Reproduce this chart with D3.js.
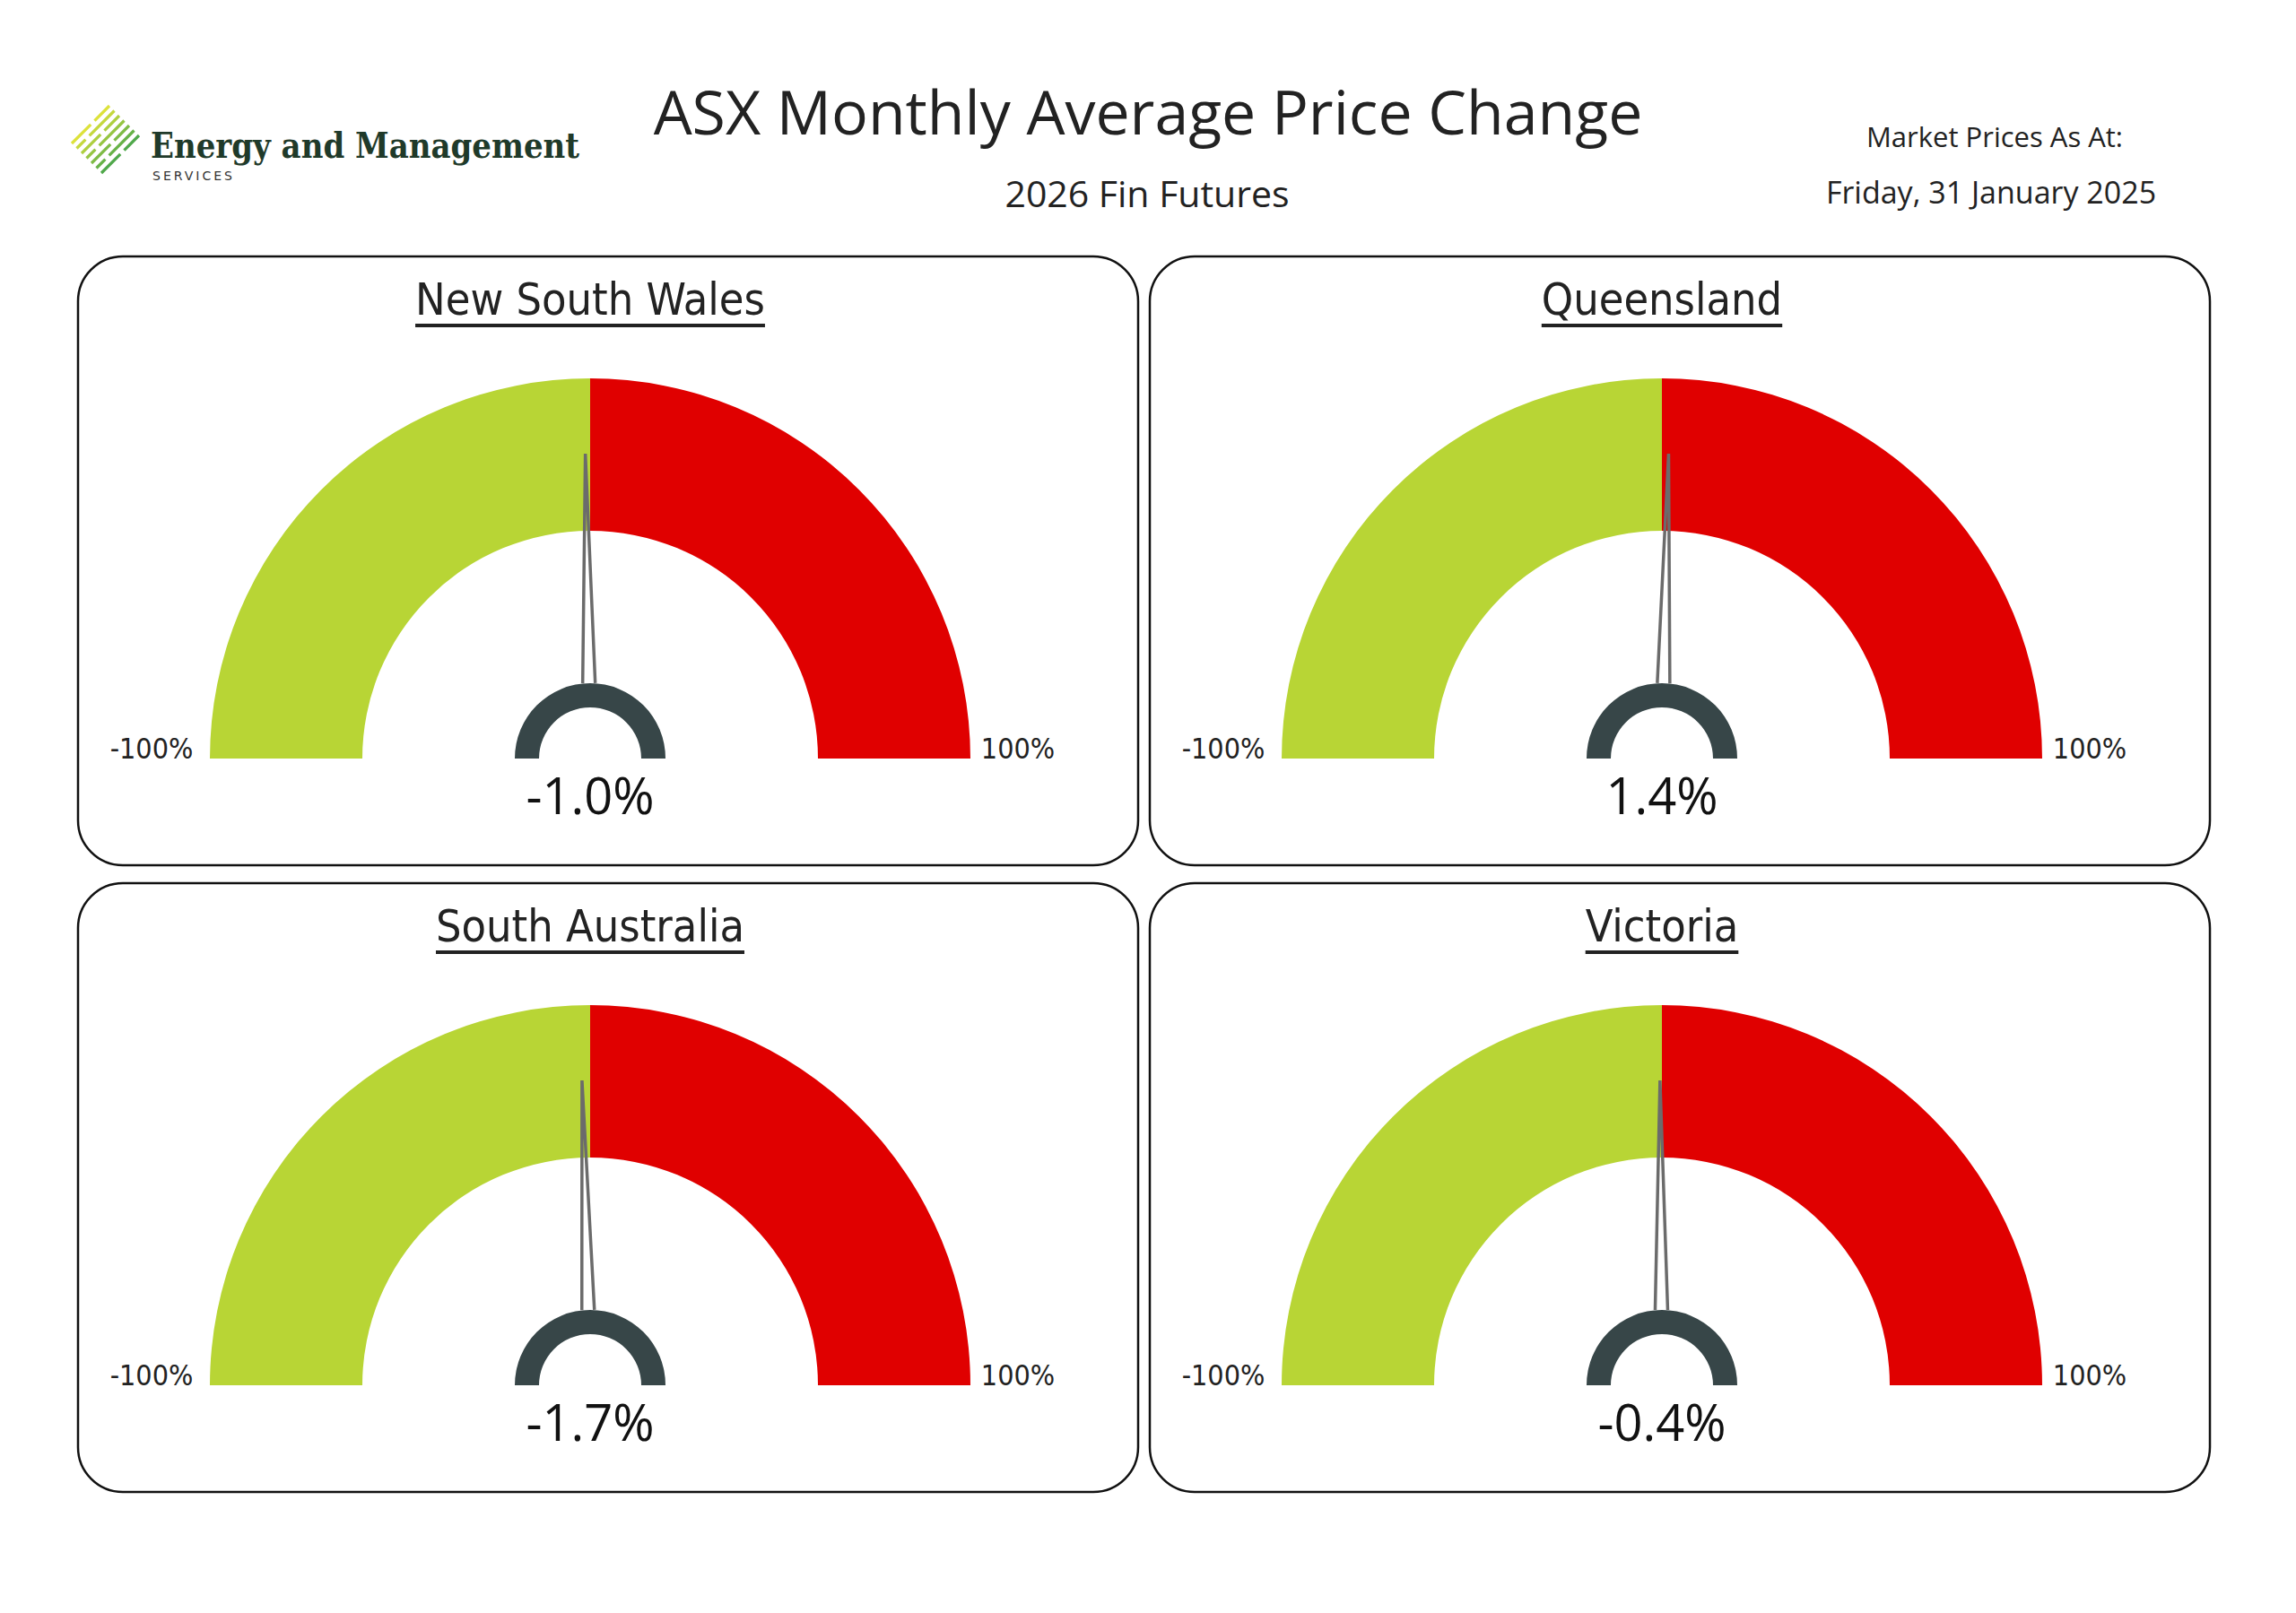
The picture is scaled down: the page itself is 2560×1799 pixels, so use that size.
<!DOCTYPE html>
<html><head><meta charset="utf-8">
<script src="https://cdn.jsdelivr.net/npm/d3@7"></script>
<style>body{margin:0;background:#fff}</style></head>
<body><svg id="c" width="2560" height="1799"></svg>
<script>
const regions = ["New South Wales","Queensland","South Australia","Victoria"];
const values = [-1.0, 1.4, -1.7, -0.4];
const rangeLabels = ["-100%","100%"];
const domain = [-100, 100];

const svg = d3.select("#c");
const S = "DejaVu Sans Condensed, Liberation Sans Narrow, sans-serif";
svg.append("rect").attr("width",2560).attr("height",1799).attr("fill","#fff");

// header
svg.append("text").attr("x",1280).attr("y",150).attr("text-anchor","middle")
  .attr("font-family","Open Sans, sans-serif").attr("font-size",68).attr("fill","#222")
  .text("ASX Monthly Average Price Change");
svg.append("text").attr("x",1279).attr("y",231).attr("text-anchor","middle")
  .attr("font-family","Open Sans, sans-serif").attr("font-size",41).attr("fill","#222")
  .text("2026 Fin Futures");
svg.append("text").attr("x",2224).attr("y",164).attr("text-anchor","middle")
  .attr("font-family","Open Sans, sans-serif").attr("font-size",31).attr("fill","#222")
  .text("Market Prices As At:");
svg.append("text").attr("x",2220).attr("y",227).attr("text-anchor","middle")
  .attr("font-family","Open Sans, sans-serif").attr("font-size",34).attr("font-weight",500).attr("fill","#222")
  .text("Friday, 31 January 2025");

// logo icon: parallel diagonal dashed stripes
const lg = svg.append("g").attr("transform","translate(80,118)");
const stripeCol = d3.scaleLinear().domain([0,6]).range(["#dde23a","#4fa84a"]);
for(let i=0;i<7;i++){
  const o=i*5.5;
  lg.append("line").attr("x1",o).attr("y1",42+o).attr("x2",42+o).attr("y2",o)
    .attr("stroke",stripeCol(i)).attr("stroke-width",3.2)
    .attr("stroke-dasharray",i%2?"14 6 40":"30 6 30");
}
svg.append("text").attr("x",168).attr("y",176).attr("font-family","DejaVu Serif, serif").attr("font-weight","bold")
  .attr("font-size",40).attr("fill","#1f3a2a").attr("textLength",478).attr("lengthAdjust","spacingAndGlyphs")
  .text("Energy and Management");
svg.append("text").attr("x",170).attr("y",201).attr("font-family","DejaVu Sans, sans-serif")
  .attr("font-size",14).attr("letter-spacing",3).attr("fill","#333").text("SERVICES");

// panels
const panelX=[87,1282], panelY=[286,985], PW=1182, PH=679;
const ang = d3.scaleLinear().domain(domain).range([-Math.PI/2, Math.PI/2]);
const Ro=424, Ri=254;
const fmt = v => (v<0?"-":"") + d3.format(".1f")(Math.abs(v)) + "%";
regions.forEach((name,i)=>{
  const px=panelX[i%2], py=panelY[Math.floor(i/2)];
  const g=svg.append("g").attr("transform",`translate(${px},${py})`);
  g.append("rect").attr("width",PW).attr("height",PH).attr("rx",50).attr("fill","#fff")
    .attr("stroke","#111").attr("stroke-width",2.5);
  const cx=571, cy=560;
  const t=g.append("text").attr("x",cx).attr("y",65).attr("text-anchor","middle")
    .attr("font-family",S).attr("font-size",50).attr("fill","#222").text(name);
  const tw = t.node().getComputedTextLength();
  g.append("line").attr("x1",cx-tw/2).attr("x2",cx+tw/2).attr("y1",77).attr("y2",77)
    .attr("stroke","#222").attr("stroke-width",4);
  const gg=g.append("g").attr("transform",`translate(${cx},${cy})`);
  const arc=d3.arc().innerRadius(Ri).outerRadius(Ro);
  gg.append("path").attr("d",arc({startAngle:ang(-100),endAngle:ang(0)})).attr("fill","#b8d535");
  gg.append("path").attr("d",arc({startAngle:ang(0),endAngle:ang(100)})).attr("fill","#e00000");
  gg.append("path").attr("d",d3.arc().innerRadius(57).outerRadius(84)({startAngle:-Math.PI/2,endAngle:Math.PI/2}))
    .attr("fill","#374648");
  const a=ang(values[i]);
  const tip=[340*Math.sin(a), -340*Math.cos(a)];
  const bl=[ -7*Math.cos(a)+84*Math.sin(a), -7*Math.sin(a)-84*Math.cos(a)];
  const br=[ 7*Math.cos(a)+84*Math.sin(a), 7*Math.sin(a)-84*Math.cos(a)];
  gg.append("path").attr("d",d3.line()([bl,tip,br])).attr("fill","none")
    .attr("stroke","#6b6b6b").attr("stroke-width",3.5);
  gg.append("text").attr("x",-489).attr("y",0).attr("text-anchor","middle")
    .attr("font-family",S).attr("font-size",32).attr("fill","#222").text(rangeLabels[0]);
  gg.append("text").attr("x",477).attr("y",0).attr("text-anchor","middle")
    .attr("font-family",S).attr("font-size",32).attr("fill","#222").text(rangeLabels[1]);
  gg.append("text").attr("x",0).attr("y",62).attr("text-anchor","middle")
    .attr("font-family","Open Sans, sans-serif").attr("font-size",56).attr("fill","#111")
    .text(fmt(values[i]));
});
</script></body></html>
